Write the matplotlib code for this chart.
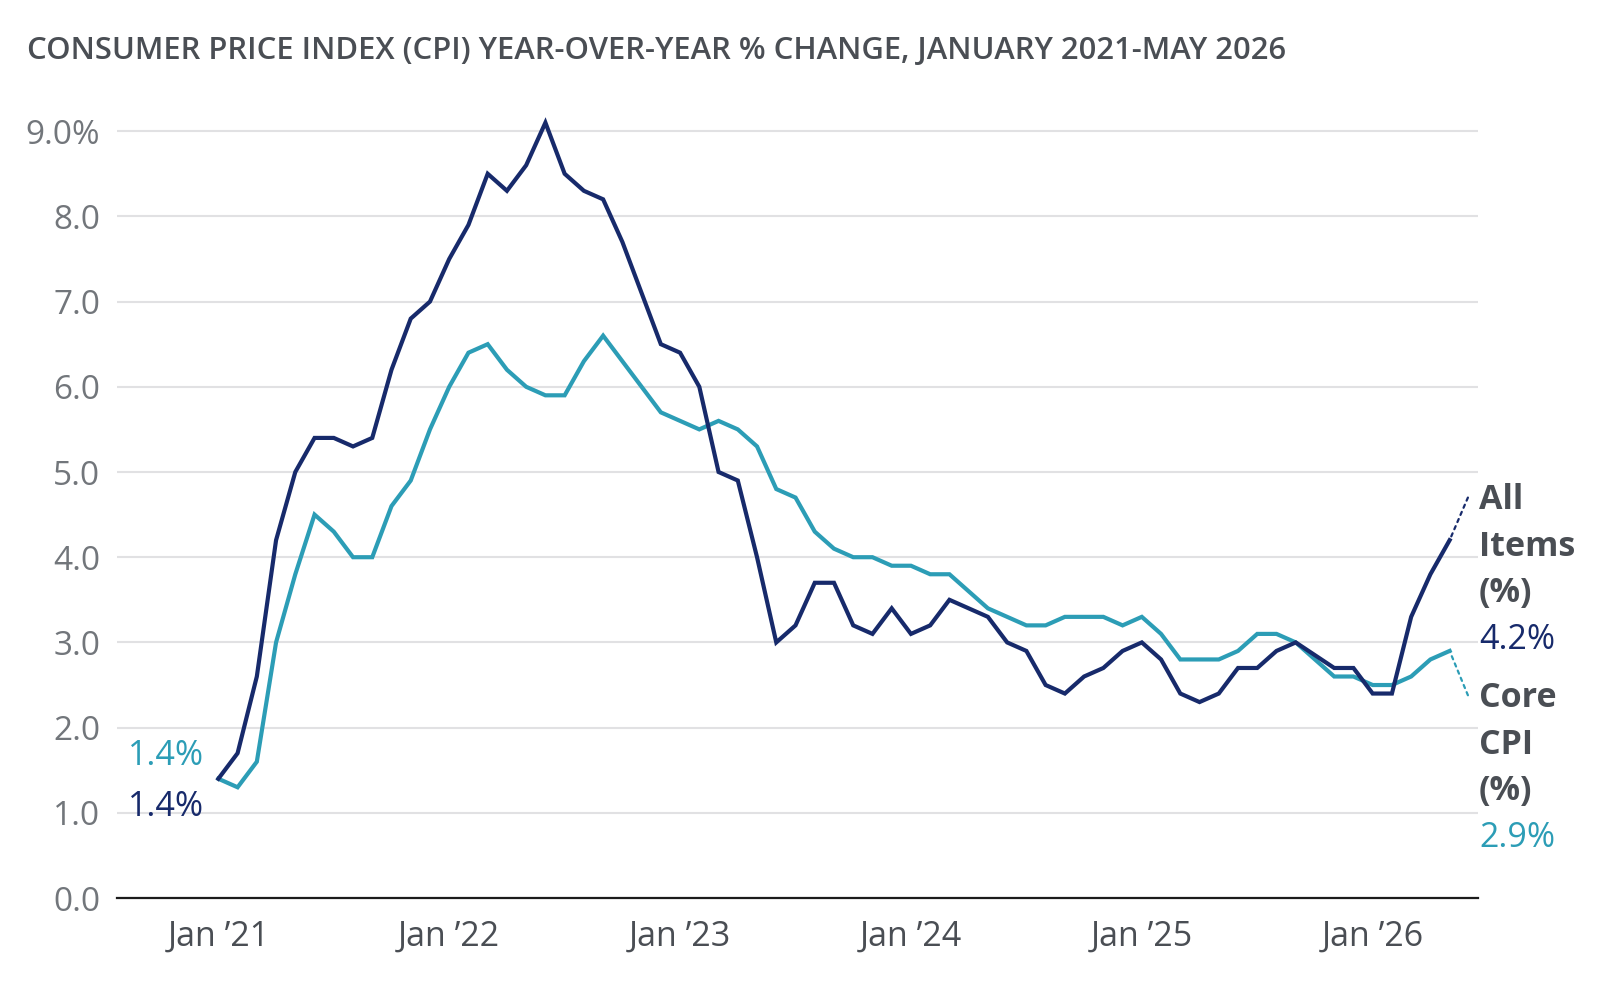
import matplotlib
matplotlib.use("Agg")
import matplotlib.pyplot as plt
import pandas as pd

# Monatsreihe Jan 2021 - Mai 2026 (Okt 2025 wurde nicht veröffentlicht)
months = pd.period_range("2021-01", "2026-05", freq="M")
months = months[months != pd.Period("2025-10", freq="M")]

all_items = [1.4, 1.7, 2.6, 4.2, 5.0, 5.4, 5.4, 5.3, 5.4, 6.2, 6.8, 7.0,
             7.5, 7.9, 8.5, 8.3, 8.6, 9.1, 8.5, 8.3, 8.2, 7.7, 7.1, 6.5,
             6.4, 6.0, 5.0, 4.9, 4.0, 3.0, 3.2, 3.7, 3.7, 3.2, 3.1, 3.4,
             3.1, 3.2, 3.5, 3.4, 3.3, 3.0, 2.9, 2.5, 2.4, 2.6, 2.7, 2.9,
             3.0, 2.8, 2.4, 2.3, 2.4, 2.7, 2.7, 2.9, 3.0, 2.7, 2.7,
             2.4, 2.4, 3.3, 3.8, 4.2]
core_cpi = [1.4, 1.3, 1.6, 3.0, 3.8, 4.5, 4.3, 4.0, 4.0, 4.6, 4.9, 5.5,
            6.0, 6.4, 6.5, 6.2, 6.0, 5.9, 5.9, 6.3, 6.6, 6.3, 6.0, 5.7,
            5.6, 5.5, 5.6, 5.5, 5.3, 4.8, 4.7, 4.3, 4.1, 4.0, 4.0, 3.9,
            3.9, 3.8, 3.8, 3.6, 3.4, 3.3, 3.2, 3.2, 3.3, 3.3, 3.3, 3.2,
            3.3, 3.1, 2.8, 2.8, 2.8, 2.9, 3.1, 3.1, 3.0, 2.6, 2.6,
            2.5, 2.5, 2.6, 2.8, 2.9]

tick_months = [0, 12, 24, 36, 48, 60]
tick_labels = ["Jan \u201921", "Jan \u201922", "Jan \u201923",
               "Jan \u201924", "Jan \u201925", "Jan \u201926"]
y_ticks = [0, 1, 2, 3, 4, 5, 6, 7, 8, 9]

NAVY = "#172a6b"
TEAL = "#2c9db6"
DARK = "#4a4e54"
GREY = "#72767b"

plt.rcParams["font.family"] = ["Open Sans", "DejaVu Sans"]

x = [(p.year - 2021) * 12 + p.month - 1 for p in months]

fig = plt.figure(figsize=(16, 9.86), dpi=100)
ax = fig.add_axes([0.0731, 0.0892, 0.8506, 0.8037])

ax.plot(x, core_cpi, color=TEAL, lw=3.0, solid_joinstyle="miter", zorder=3)
ax.plot(x, all_items, color=NAVY, lw=3.0, solid_joinstyle="miter", zorder=4)

ax.set_xlim(-5.27, 65.47)
ax.set_ylim(0, 9.3)
ax.set_yticks(y_ticks)
ax.set_yticklabels([f"{v:.1f}%" if v == 9 else f"{v:.1f}" for v in y_ticks])
ax.set_xticks(tick_months)
ax.set_xticklabels(tick_labels)
ax.tick_params(axis="y", length=0, pad=12, labelsize=24, labelcolor=GREY)
ax.tick_params(axis="x", length=0, pad=15.5, labelsize=24.5, labelcolor=DARK)
ax.grid(axis="y", color="#e1e1e3", lw=1.5)
ax.set_axisbelow(True)
for s in ("top", "right", "left"):
    ax.spines[s].set_visible(False)
ax.spines["bottom"].set_color("#1b1b1b")
ax.spines["bottom"].set_linewidth(1.6)
ax.spines["bottom"].set_zorder(5)

fig.text(0.017, 0.948, "CONSUMER PRICE INDEX (CPI) YEAR-OVER-YEAR % CHANGE, JANUARY 2021-MAY 2026",
         fontsize=22.3, fontweight="semibold", color=DARK, va="center")

# Startwerte links
ax.text(-0.74, 1.56, f"{core_cpi[0]:.1f}%", color=TEAL, fontsize=24.5,
        ha="right", va="baseline")
ax.text(-0.74, 0.96, f"{all_items[0]:.1f}%", color=NAVY, fontsize=24.5,
        ha="right", va="baseline")

# Endbeschriftungen rechts mit gepunkteter Verbindung
xe = x[-1]
ax.annotate("", xy=(xe, all_items[-1]), xytext=(xe + 0.95, all_items[-1] + 0.5),
            arrowprops=dict(arrowstyle="-", color=NAVY, lw=1.6, ls=(0, (1.5, 2)),
                            shrinkA=0, shrinkB=0))
ax.annotate("", xy=(xe, core_cpi[-1]), xytext=(xe + 0.95, core_cpi[-1] - 0.52),
            arrowprops=dict(arrowstyle="-", color=TEAL, lw=1.6, ls=(0, (1.5, 2)),
                            shrinkA=0, shrinkB=0))

tx = 1479 / 1600
lab = dict(fontsize=24.5, ha="left", va="center")
for i, t in enumerate(["All", "Items", "(%)"]):
    fig.text(tx, 1 - (500 + i * 46.5) / 986, t, color=DARK, fontweight="bold", **lab)
fig.text(tx, 1 - 640 / 986, f"{all_items[-1]:.1f}%", color=NAVY, **lab)
for i, t in enumerate(["Core", "CPI", "(%)"]):
    fig.text(tx, 1 - (698 + i * 46.5) / 986, t, color=DARK, fontweight="bold", **lab)
fig.text(tx, 1 - 838 / 986, f"{core_cpi[-1]:.1f}%", color=TEAL, **lab)

fig.savefig("out.png", dpi=100)
